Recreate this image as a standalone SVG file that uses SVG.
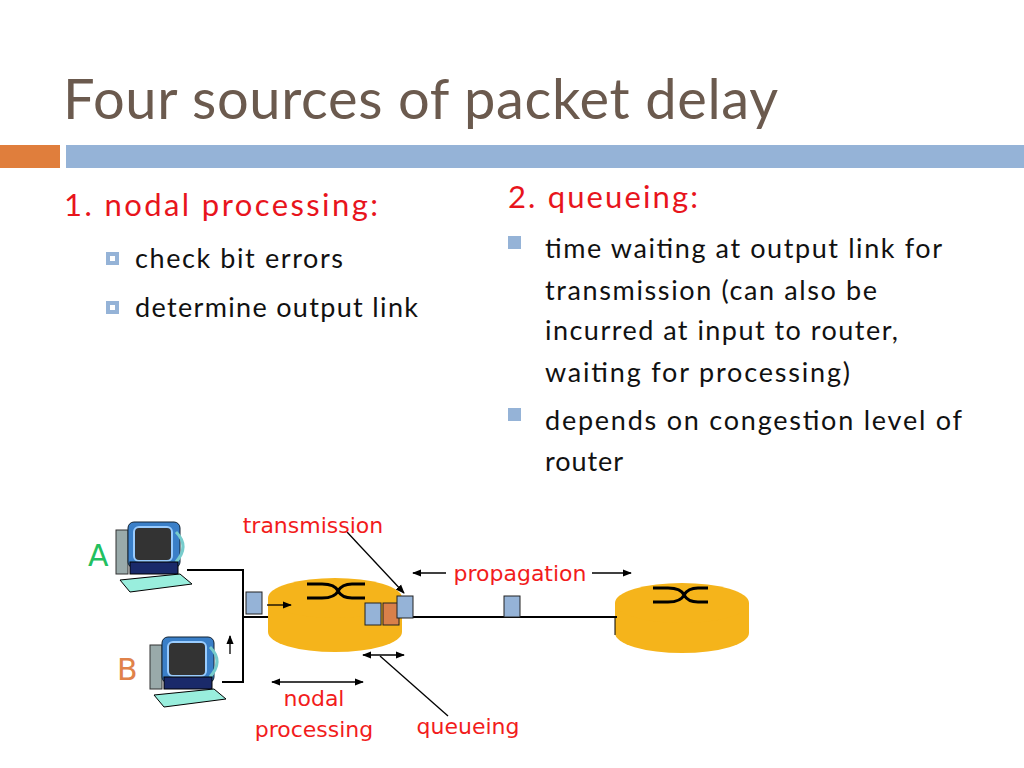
<svg xmlns="http://www.w3.org/2000/svg" width="1024" height="768" viewBox="0 0 1024 768">
<style>
.t{font-family:"Lato","Open Sans",sans-serif}
.h{fill:#e8141c;font-size:31px}
.b{fill:#111;font-size:27px}
.r{fill:#f21c1c;font-family:"DejaVu Sans",sans-serif;font-size:22px}
.ln{stroke:#000;stroke-width:2;fill:none}
.th{stroke:#000;stroke-width:1.3;fill:none}
.pk{fill:#95b3d7;stroke:#222;stroke-width:1}
.rt{fill:#f5b41b}
.sw{stroke:#000;stroke-width:3;fill:none}
</style>
<defs>
<marker id="ah" viewBox="0 0 10 10" refX="9" refY="5" markerWidth="7" markerHeight="7" orient="auto-start-reverse"><path d="M0,1 L10,5 L0,9 z" fill="#000"/></marker>
<g id="pc">
<rect x="0" y="8" width="12" height="44" fill="#9aa" stroke="#333"/>
<rect x="12" y="0" width="52" height="46" rx="6" fill="#3a7fc8" stroke="#123"/>
<rect x="18" y="5" width="38" height="34" rx="5" fill="#333" stroke="#9cf" stroke-width="2"/>
<path d="M60,10 q14,14 0,30" stroke="#7cc" stroke-width="3" fill="none"/>
<rect x="14" y="40" width="48" height="12" fill="#1a2a6a" stroke="#000"/>
<path d="M4,58 L64,52 L76,62 L14,70 z" fill="#9ed" stroke="#000"/>
</g>
</defs>
<rect width="1024" height="768" fill="#fff"/>
<text class="t" x="63" y="119" font-size="56" fill="#6b5a4e" textLength="715" lengthAdjust="spacing">Four sources of packet delay</text>
<rect x="0" y="145" width="60" height="23" fill="#e07e3c"/>
<rect x="66" y="145" width="958" height="23" fill="#95b3d7"/>
<text class="t h" x="64" y="216" textLength="314" lengthAdjust="spacing">1. nodal processing:</text>
<rect x="106" y="252" width="13" height="13" fill="#95b3d7"/><rect x="110" y="256" width="5" height="5" fill="#fff"/>
<text class="t b" x="135" y="268" textLength="208" lengthAdjust="spacing">check bit errors</text>
<rect x="106" y="301" width="13" height="13" fill="#95b3d7"/><rect x="110" y="305" width="5" height="5" fill="#fff"/>
<text class="t b" x="135" y="317" textLength="283" lengthAdjust="spacing">determine output link</text>
<text class="t h" x="508" y="208" textLength="190" lengthAdjust="spacing">2. queueing:</text>
<rect x="508" y="236" width="13" height="13" fill="#95b3d7"/>
<text class="t b" x="545" y="258" textLength="397" lengthAdjust="spacing">time waiting at output link for</text>
<text class="t b" x="545" y="300" textLength="332" lengthAdjust="spacing">transmission (can also be</text>
<text class="t b" x="545" y="340" textLength="353" lengthAdjust="spacing">incurred at input to router,</text>
<text class="t b" x="545" y="382" textLength="305" lengthAdjust="spacing">waiting for processing)</text>
<rect x="508" y="408" width="13" height="13" fill="#95b3d7"/>
<text class="t b" x="545" y="430" textLength="417" lengthAdjust="spacing">depends on congestion level of</text>
<text class="t b" x="545" y="471" textLength="78" lengthAdjust="spacing">router</text>
<g id="hostA"><use href="#pc" x="116" y="522"/><text x="88" y="566" style="fill:#22c060;font-family:'DejaVu Sans',sans-serif;font-size:30px">A</text></g>
<g id="hostB"><use href="#pc" x="150" y="637"/><text x="117" y="680" style="fill:#e0824a;font-family:'DejaVu Sans',sans-serif;font-size:30px">B</text></g>
<g id="router1">
<path class="rt" d="M268,598 L268,632 A67,20 0 0 0 402,632 L402,598 z"/>
<ellipse class="rt" cx="335" cy="598" rx="67" ry="20"/>
<path class="sw" d="M307,584 H322 Q335,584 338,591 Q342,598 352,598 H365 M307,598 H322 Q335,598 338,591 Q342,584 352,584 H365"/>
</g>
<g id="router2">
<path class="rt" d="M615,603 L615,633 A67,20 0 0 0 749,633 L749,603 z"/>
<ellipse class="rt" cx="682" cy="603" rx="67" ry="20"/>
<path class="sw" d="M653,588 H668 Q681,588 684,595 Q688,602 698,602 H708 M653,602 H668 Q681,602 684,595 Q688,588 698,588 H708"/>
</g>
<g id="connectors">
<path class="ln" d="M187,570 H243 V682 H222 M243,617 H268"/>
<path class="ln" d="M413,617 H617"/>
<line x1="615" y1="617" x2="615" y2="635" stroke="#000" stroke-width="1"/>
<rect class="pk" x="246" y="592" width="16" height="22"/>
<rect class="pk" x="365" y="603" width="16" height="22"/>
<rect x="383" y="603" width="16" height="22" fill="#d9804a" stroke="#222"/>
<rect class="pk" x="397" y="596" width="16" height="22"/>
<rect class="pk" x="504" y="596" width="16" height="21"/>
<line class="th" x1="267" y1="605" x2="291" y2="605" marker-end="url(#ah)"/>
<line class="th" x1="230" y1="654" x2="230" y2="636" marker-end="url(#ah)"/>
<line class="th" x1="347" y1="532" x2="404" y2="593" marker-end="url(#ah)"/>
<line class="th" x1="446" y1="573" x2="413" y2="573" marker-end="url(#ah)"/>
<line class="th" x1="592" y1="573" x2="631" y2="573" marker-end="url(#ah)"/>
<line class="th" x1="363" y1="655" x2="404" y2="655" marker-start="url(#ah)" marker-end="url(#ah)"/>
<line class="th" x1="272" y1="682" x2="363" y2="682" marker-start="url(#ah)" marker-end="url(#ah)"/>
<line class="th" x1="380" y1="656" x2="448" y2="716"/>
</g>
<text class="r" x="313" y="533" text-anchor="middle">transmission</text>
<text class="r" x="520" y="581" text-anchor="middle">propagation</text>
<text class="r" x="314" y="706" text-anchor="middle">nodal</text>
<text class="r" x="314" y="737" text-anchor="middle">processing</text>
<text class="r" x="468" y="734" text-anchor="middle">queueing</text>
</svg>
